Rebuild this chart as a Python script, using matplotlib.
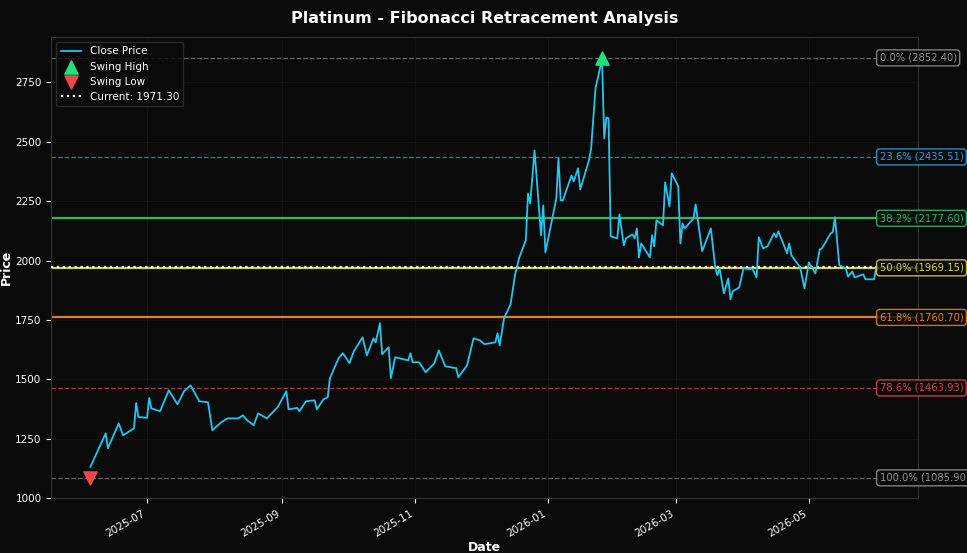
import numpy as np
import pandas as pd
import matplotlib
matplotlib.use('Agg')
import matplotlib.pyplot as plt
import matplotlib.dates as mdates

# ── Data ──────────────────────────────────────────────────────────
base_date = pd.Timestamp('2025-06-01')
day_offset = [4, 11, 12, 17, 19, 24, 25, 26, 30, 31, 32, 36, 40, 44, 47, 50, 54, 58, 60,
              64, 67, 72, 74, 76, 79, 81, 85, 90, 94, 95, 99, 100, 103, 107, 108, 111,
              113, 114, 118, 120, 123, 125, 129, 131, 134, 135, 137, 138, 141, 142, 144,
              150, 151, 152, 155, 158, 162, 164, 167, 172, 173, 177, 180, 183, 185, 190,
              191, 192, 194, 197, 199, 201, 204, 205, 206, 208, 211, 212, 213, 218, 219,
              220, 221, 225, 226, 228, 229, 233, 234, 236, 239, 240, 241, 242, 243, 246,
              247, 249, 250, 253, 254, 255, 256, 257, 261, 262, 263, 264, 267, 268, 270,
              271, 274, 275, 276, 277, 281, 282, 285, 289, 291, 292, 293, 295, 297, 298,
              299, 302, 304, 307, 308, 310, 311, 313, 315, 318, 319, 320, 324, 325, 326,
              330, 332, 334, 337, 339, 340, 344, 345, 346, 348, 351, 352, 354, 355, 359,
              360, 364, 365]
close_price = [1132, 1273, 1210, 1315, 1265, 1294, 1401, 1342, 1338, 1422, 1378, 1366,
               1454, 1395, 1450, 1475, 1408, 1404, 1286, 1319, 1336, 1336, 1349, 1328,
               1307, 1357, 1336, 1383, 1450, 1374, 1380, 1366, 1408, 1412, 1374, 1416,
               1425, 1505, 1589, 1610, 1568, 1618, 1677, 1601, 1673, 1656, 1736, 1606,
               1635, 1505, 1593, 1580, 1610, 1572, 1572, 1530, 1568, 1622, 1555, 1547,
               1509, 1559, 1673, 1664, 1648, 1656, 1694, 1643, 1757, 1816, 1938, 2013,
               2085, 2282, 2240, 2463, 2106, 2232, 2034, 2261, 2430, 2253, 2253, 2358,
               2333, 2388, 2299, 2421, 2472, 2724, 2846, 2514, 2602, 2598, 2102, 2093,
               2194, 2064, 2093, 2110, 2093, 2135, 2013, 2072, 2013, 2106, 2060, 2169,
               2148, 2329, 2228, 2367, 2312, 2072, 2156, 2135, 2177, 2236, 2039, 2135,
               1971, 1938, 1967, 1862, 1925, 1837, 1870, 1887, 1967, 1963, 1967, 1929,
               2098, 2051, 2060, 2114, 2098, 2123, 2030, 2072, 2022, 1971, 1883, 1992,
               1946, 2047, 2051, 2114, 2119, 2182, 1980, 1967, 1933, 1954, 1929, 1942,
               1921, 1921, 1971.3]

swing_high_day, swing_high = 239, 2852.40
swing_low_day, swing_low = 4, 1085.90
current_price = 1971.30

fib_ratios = [0.0, 0.236, 0.382, 0.5, 0.618, 0.786, 1.0]
fib_colors = ['#9e9e9e', '#29b6f6', '#2ecc71', '#f1e64b', '#ff8c1a', '#e84c4c', '#9e9e9e']
fib_styles = ['--', '--', '-', '-', '-', '--', '--']
fib_widths = [0.9, 0.9, 1.6, 1.6, 1.6, 0.9, 0.9]
fib_alpha = [0.6, 0.7, 0.9, 0.9, 0.9, 0.7, 0.6]

dates = base_date + pd.to_timedelta(day_offset, unit='D')

# ── Plot ──────────────────────────────────────────────────────────
bg = '#0a0a0a'
fig, ax = plt.subplots(figsize=(9.67, 5.53), dpi=100)
fig.patch.set_facecolor(bg)
ax.set_facecolor(bg)

ax.plot(dates, close_price, color='#1ec8f0', lw=1.3, label='Close Price', zorder=4)

rng = swing_high - swing_low
last_date = dates[-1]
for r, c, ls, lw, a in zip(fib_ratios, fib_colors, fib_styles, fib_widths, fib_alpha):
    lvl = swing_high - r * rng
    ax.text(last_date + pd.Timedelta(days=1.5), lvl, f'{r*100:.1f}% ({lvl:.2f})', color=c,
            fontsize=7.2, va='center', ha='left', alpha=0.9, zorder=6,
            bbox=dict(boxstyle='round,pad=0.3', facecolor=bg, edgecolor=c, alpha=0.8))
    ax.axhline(lvl, color=c, linestyle=ls, lw=lw, alpha=a, zorder=2)

ax.axhline(current_price, color='white', linestyle=':', lw=1.6,
           label=f'Current: {current_price:.2f}', zorder=3)

ax.scatter([base_date + pd.Timedelta(days=swing_high_day)], [swing_high], marker='^',
           s=90, color='#1de47a', label='Swing High', zorder=5)
ax.scatter([base_date + pd.Timedelta(days=swing_low_day)], [swing_low], marker='v',
           s=90, color='#f04848', label='Swing Low', zorder=5)

ax.set_xlim(base_date - pd.Timedelta(days=14), base_date + pd.Timedelta(days=384))
ax.set_ylim(1000, 2940)
ax.xaxis.set_major_locator(mdates.MonthLocator(bymonth=[1, 3, 5, 7, 9, 11]))
ax.xaxis.set_major_formatter(mdates.DateFormatter('%Y-%m'))
plt.setp(ax.get_xticklabels(), rotation=30, ha='right')

ax.grid(True, color='#222222', lw=0.5, alpha=0.5)
ax.tick_params(colors='white', labelsize=7.5)
for s in ax.spines.values():
    s.set_color('#333333')

ax.set_title('Platinum - Fibonacci Retracement Analysis', color='white',
             fontsize=11.5, fontweight='bold', pad=10)
ax.set_xlabel('Date', color='white', fontsize=9, fontweight='bold', labelpad=2)
ax.set_ylabel('Price', color='white', fontsize=9, fontweight='bold', labelpad=2)

h, l = ax.get_legend_handles_labels()
order = [l.index('Close Price'), l.index('Swing High'), l.index('Swing Low'),
         l.index(f'Current: {current_price:.2f}')]
leg = ax.legend([h[i] for i in order], [l[i] for i in order], loc='upper left',
                fontsize=7.5, facecolor=bg, edgecolor='#333333', labelcolor='white')

plt.subplots_adjust(left=0.053, right=0.949, top=0.933, bottom=0.099)
plt.savefig('out.png', dpi=100, facecolor=bg)
